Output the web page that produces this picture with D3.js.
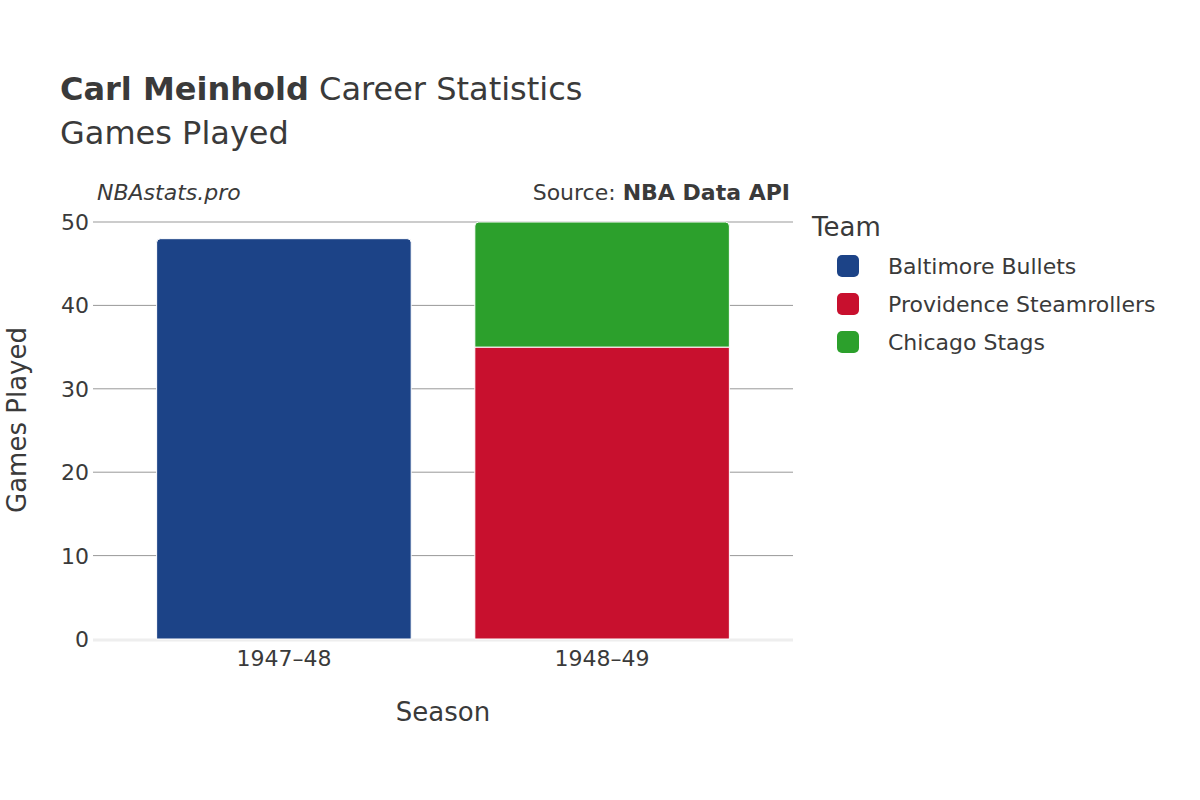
<!DOCTYPE html>
<html>
<head>
<meta charset="utf-8">
<script src="https://cdn.jsdelivr.net/npm/d3@7"></script>
<style>body{margin:0;background:#fff}text{font-family:"DejaVu Sans",sans-serif;fill:#3a3a3a}</style>
</head>
<body>
<script>
var seasons = ["1947–48", "1948–49"],
    teams = ["Baltimore Bullets", "Providence Steamrollers", "Chicago Stags"],
    colors = ["#1c4387", "#c8102e", "#2ca02c"],
    games = [[48, 0, 0], [0, 35, 15]],
    yTicks = [0, 10, 20, 30, 40, 50];

var svg = d3.select("body").append("svg").attr("width", 1200).attr("height", 800);
var x = d3.scaleBand().domain(seasons).range([93, 793]).padding(0.2);
var y = d3.scaleLinear().domain([0, 50]).range([639, 222]);

svg.selectAll("line.grid").data(yTicks.slice(1)).enter().append("line")
  .attr("x1", 93).attr("x2", 793).attr("y1", y).attr("y2", y)
  .attr("stroke", "#999").attr("stroke-width", 1);
svg.append("line").attr("x1", 93).attr("x2", 793).attr("y1", y(0) + 1).attr("y2", y(0) + 1)
  .attr("stroke", "#eee").attr("stroke-width", 3);

var segs = [];
seasons.forEach(function(s, i) {
  var base = 0;
  teams.forEach(function(t, j) {
    var v = games[i][j];
    if (v > 0) { segs.push({s: s, j: j, y0: base, y1: base + v}); base += v; }
  });
  segs[segs.length - 1].top = true;
});
svg.selectAll("path.bar").data(segs).enter().append("path")
  .attr("d", function(d) {
    var x0 = x(d.s), w = x.bandwidth(), yt = y(d.y1), yb = y(d.y0), r = d.top ? 4 : 0;
    return "M" + x0 + "," + yb + "V" + (yt + r) + "Q" + x0 + "," + yt + " " + (x0 + r) + "," + yt +
      "H" + (x0 + w - r) + "Q" + (x0 + w) + "," + yt + " " + (x0 + w) + "," + (yt + r) + "V" + yb + "Z";
  })
  .attr("fill", function(d) { return colors[d.j]; })
  .attr("stroke", "#fff").attr("stroke-width", 1);

svg.selectAll("text.yt").data(yTicks).enter().append("text")
  .attr("x", 89).attr("y", function(d) { return y(d) + 8; })
  .attr("text-anchor", "end").attr("font-size", 22).text(function(d) { return d; });
svg.selectAll("text.xt").data(seasons).enter().append("text")
  .attr("x", function(d) { return x(d) + x.bandwidth() / 2; }).attr("y", 666)
  .attr("text-anchor", "middle").attr("font-size", 22).text(function(d) { return d; });

svg.append("text").attr("x", 443).attr("y", 721).attr("text-anchor", "middle").attr("font-size", 26).text("Season");
svg.append("text").attr("transform", "translate(26,420) rotate(-90)").attr("text-anchor", "middle")
  .attr("font-size", 26).text("Games Played");

var t = svg.append("text").attr("x", 60).attr("y", 100).attr("font-size", 32);
t.append("tspan").attr("font-weight", "bold").text("Carl Meinhold");
t.append("tspan").text(" Career Statistics");
svg.append("text").attr("x", 60).attr("y", 144).attr("font-size", 32).text("Games Played");

svg.append("text").attr("x", 97).attr("y", 200).attr("font-size", 22).attr("font-style", "italic").text("NBAstats.pro");
var src = svg.append("text").attr("x", 790).attr("y", 200).attr("font-size", 22).attr("text-anchor", "end");
src.append("tspan").text("Source: ");
src.append("tspan").attr("font-weight", "bold").text("NBA Data API");

svg.append("text").attr("x", 812).attr("y", 236).attr("font-size", 26).text("Team");
var lg = svg.selectAll("g.lg").data(teams).enter().append("g")
  .attr("transform", function(d, i) { return "translate(0," + (266 + i * 38) + ")"; });
lg.append("rect").attr("x", 837).attr("y", -11).attr("width", 22).attr("height", 22).attr("rx", 5)
  .attr("fill", function(d, i) { return colors[i]; });
lg.append("text").attr("x", 888).attr("y", 8).attr("font-size", 22).text(function(d) { return d; });
</script>
</body>
</html>
